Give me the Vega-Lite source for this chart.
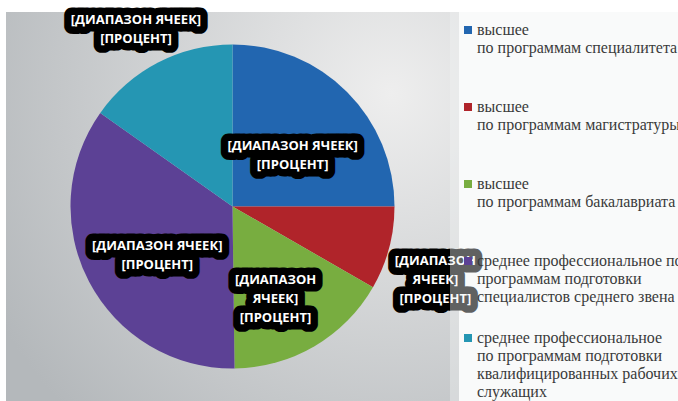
{
  "$schema": "https://vega.github.io/schema/vega-lite/v6.json",
  "width": 453,
  "height": 389,
  "padding": {"left": 6, "top": 12, "right": 0, "bottom": 0},
  "background": "white",
  "data": {
    "values": [
      {"idx": 1, "category": "высшее\nпо программам специалитета", "share": 25, "placement": "inside", "label": "[ДИАПАЗОН ЯЧЕЕК]\n[ПРОЦЕНТ]"},
      {"idx": 2, "category": "высшее\nпо программам  магистратуры", "share": 8.3, "placement": "outside", "label": "[ДИАПАЗОН\nЯЧЕЕК]\n[ПРОЦЕНТ]"},
      {"idx": 3, "category": "высшее\nпо программам бакалавриата", "share": 16.5, "placement": "inside", "label": "[ДИАПАЗОН\nЯЧЕЕК]\n[ПРОЦЕНТ]"},
      {"idx": 4, "category": "среднее профессиональное по\nпрограммам подготовки\nспециалистов среднего звена", "share": 35, "placement": "inside", "label": "[ДИАПАЗОН ЯЧЕЕК]\n[ПРОЦЕНТ]"},
      {"idx": 5, "category": "среднее профессиональное\nпо программам подготовки\nквалифицированных рабочих,\nслужащих", "share": 15.2, "placement": "outside", "label": "[ДИАПАЗОН ЯЧЕЕК]\n[ПРОЦЕНТ]"}
    ]
  },
  "layer": [
    {
      "data": {"values": [{}]},
      "mark": {
        "type": "rect",
        "color": {
          "gradient": "radial",
          "x1": 0.85, "y1": 0.25, "r1": 0,
          "x2": 0.85, "y2": 0.25, "r2": 1,
          "stops": [{"offset": 0, "color": "#eeeeee"}, {"offset": 1, "color": "#b4b8bb"}]
        }
      },
      "encoding": {}
    },
    {
      "mark": {"type": "arc", "outerRadius": 162},
      "encoding": {
        "theta": {"field": "share", "type": "quantitative", "stack": true},
        "order": {"field": "idx", "type": "quantitative"},
        "color": {
          "field": "category",
          "type": "nominal",
          "sort": null,
          "scale": {"range": ["#2266b0", "#b0242a", "#78ad40", "#5c4195", "#2596b3"]},
          "legend": {
            "title": null,
            "orient": "right",
            "offset": -9,
            "padding": 10,
            "symbolType": "square",
            "symbolSize": 64,
            "symbolStrokeWidth": 0,
            "labelFont": "Liberation Serif",
            "labelFontSize": 16,
            "labelColor": "#3a3a3a",
            "labelLimit": 400,
            "labelOffset": 1,
            "rowPadding": 25,
            "labelExpr": "length(split(datum.label, '\\n')) < 3 ? split(datum.label + '\\n ', '\\n') : split(datum.label, '\\n')",
            "fillColor": "rgba(240,242,243,0.4)"
          }
        }
      }
    },
    {
      "mark": {"type": "text", "font": "Open Sans", "fontWeight": "bold", "fontSize": 13, "lineHeight": 19, "lineBreak": "\n", "fill": "black", "stroke": "black", "strokeWidth": 15, "strokeJoin": "round",
        "radius": {"expr": "datum.placement == 'outside' ? 210 : 85"}},
      "encoding": {
        "theta": {"field": "share", "type": "quantitative", "stack": true},
        "order": {"field": "idx", "type": "quantitative"},
        "text": {"field": "label"}
      }
    },
    {
      "mark": {"type": "text", "font": "Open Sans", "fontWeight": "bold", "fontSize": 13, "lineHeight": 19, "lineBreak": "\n", "fill": "white",
        "radius": {"expr": "datum.placement == 'outside' ? 210 : 85"}},
      "encoding": {
        "theta": {"field": "share", "type": "quantitative", "stack": true},
        "order": {"field": "idx", "type": "quantitative"},
        "text": {"field": "label"}
      }
    }
  ],
  "config": {
    "view": {"stroke": null}
  }
}
